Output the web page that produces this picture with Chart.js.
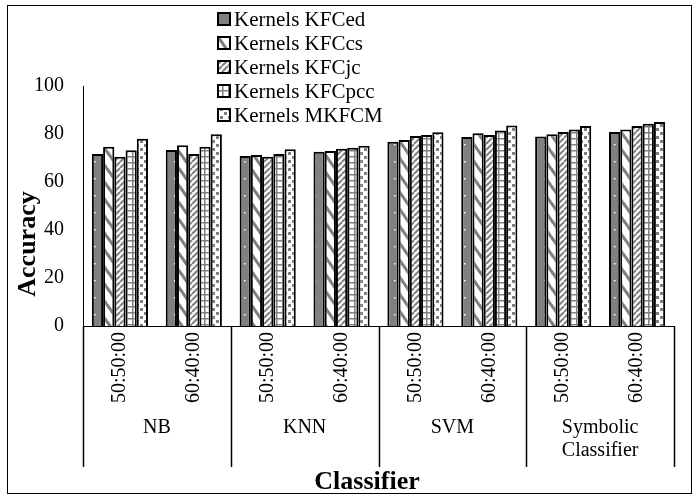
<!DOCTYPE html>
<html>
<head>
<meta charset="utf-8">
<script src="https://cdn.jsdelivr.net/npm/chart.js@4"></script>
<style>
  html, body { margin: 0; padding: 0; background: #fff; }
  #box { width: 698px; height: 498px; position: relative; }
</style>
</head>
<body>
<div id="box"><canvas id="grafico"></canvas></div>
<script>
// ================= DADOS =================
const subLabels = ["50:50:00", "60:40:00", "50:50:00", "60:40:00", "50:50:00", "60:40:00", "50:50:00", "60:40:00"]
const groupLabels = [["NB"], ["KNN"], ["SVM"], ["Symbolic", "Classifier"]]
const seriesNames = ["Kernels KFCed", "Kernels KFCcs", "Kernels KFCjc", "Kernels KFCpcc", "Kernels MKFCM"]

const kfced  = [71.7, 73.3, 70.8, 72.6, 76.8, 78.8, 79.0, 80.8]
const kfccs  = [74.7, 75.3, 71.3, 72.9, 77.5, 80.3, 79.9, 81.9]
const kfcjc  = [70.5, 71.7, 70.5, 73.9, 79.2, 79.6, 80.8, 83.3]
const kfcpcc = [73.2, 74.7, 71.7, 74.3, 79.6, 81.5, 81.9, 84.3]
const mkfcm  = [78.0, 79.9, 73.6, 75.1, 80.7, 83.5, 83.3, 85.0]

const yTicks = [0, 20, 40, 60, 80, 100]

const SERIF = "'Liberation Serif', 'Times New Roman', serif"
const GRAY = "#808080"

// ================= PADRÕES =================
function criarPadrao(w, h, desenhar) {
    const c = document.createElement("canvas")
    c.width = w
    c.height = h
    const ctx = c.getContext("2d")
    desenhar(ctx, w, h)
    return ctx.createPattern(c, "repeat")
}

// cinza com pontinhos brancos
const padraoEd = criarPadrao(10, 17, (ctx, w, h) => {
    ctx.fillStyle = GRAY
    ctx.fillRect(0, 0, w, h)
    ctx.fillStyle = "#fff"
    ctx.fillRect(4, 8, 1.5, 1.5)
})

// listras largas "\"
const padraoCs = criarPadrao(12, 17, (ctx, w, h) => {
    ctx.fillStyle = "#fff"
    ctx.fillRect(0, 0, w, h)
    ctx.strokeStyle = GRAY
    ctx.lineWidth = 3
    for (const dy of [-h, 0, h]) {
        ctx.beginPath()
        ctx.moveTo(-2, dy - 3)
        ctx.lineTo(w + 2, dy + h + 3)
        ctx.stroke()
    }
})

// hachura fina "/"
const padraoJc = criarPadrao(6, 6, (ctx, w, h) => {
    ctx.fillStyle = "#fff"
    ctx.fillRect(0, 0, w, h)
    ctx.strokeStyle = GRAY
    ctx.lineWidth = 2
    for (const dx of [-w, 0, w]) {
        ctx.beginPath()
        ctx.moveTo(dx, h)
        ctx.lineTo(dx + w, 0)
        ctx.stroke()
    }
})

// grade pequena
const padraoPcc = criarPadrao(6, 6, (ctx, w, h) => {
    ctx.fillStyle = "#fff"
    ctx.fillRect(0, 0, w, h)
    ctx.fillStyle = GRAY
    ctx.fillRect(0, 0, w, 1.5)
    ctx.fillRect(0, 0, 1.5, h)
})

// tracejado
const padraoMk = criarPadrao(8, 8, (ctx, w, h) => {
    ctx.fillStyle = "#fff"
    ctx.fillRect(0, 0, w, h)
    ctx.fillStyle = GRAY
    ctx.fillRect(0, 0, 3, 3)
    ctx.fillRect(4, 4, 3, 3)
})

const padroes = [padraoEd, padraoCs, padraoJc, padraoPcc, padraoMk]
const valores = [kfced, kfccs, kfcjc, kfcpcc, mkfcm]

// ================= PLUGIN: títulos, grupos, legenda =================
const extras = {
    id: "extras",
    afterDraw(chart) {
        const ctx = chart.ctx
        const x = chart.scales.x
        const area = chart.chartArea
        const fundo = 467

        ctx.save()

        // separadores dos grupos
        ctx.strokeStyle = "#000"
        ctx.lineWidth = 1.5
        for (let g = 0; g <= groupLabels.length; g++) {
            const px = Math.round(x.getPixelForValue(g * 2 - 0.5)) + 0.5
            ctx.beginPath()
            ctx.moveTo(px, area.bottom)
            ctx.lineTo(px, fundo)
            ctx.stroke()
        }

        // nomes dos grupos
        ctx.fillStyle = "#000"
        ctx.font = "20px " + SERIF
        ctx.textAlign = "center"
        ctx.textBaseline = "middle"
        groupLabels.forEach((linhas, g) => {
            const cx = x.getPixelForValue(g * 2 + 0.5)
            linhas.forEach((t, i) => ctx.fillText(t, cx, 428 + i * 23))
        })

        // títulos dos eixos
        ctx.font = "bold 26px " + SERIF
        ctx.fillText("Classifier", 367, 482)
        ctx.save()
        ctx.translate(28, 244)
        ctx.rotate(-Math.PI / 2)
        ctx.fillText("Accuracy", 0, 0)
        ctx.restore()

        // legenda
        ctx.font = "21px " + SERIF
        ctx.textAlign = "left"
        seriesNames.forEach((nome, i) => {
            const cy = 19 + i * 24
            ctx.fillStyle = padroes[i]
            ctx.fillRect(218, cy - 6, 12, 12)
            ctx.strokeStyle = "#000"
            ctx.lineWidth = 2
            ctx.strokeRect(218, cy - 6, 12, 12)
            ctx.fillStyle = "#000"
            ctx.fillText(nome, 234, cy + 1)
        })

        // moldura externa
        ctx.strokeStyle = "#000"
        ctx.lineWidth = 1
        ctx.strokeRect(7.5, 5.5, 684, 488)

        ctx.restore()
    }
}

// ================= GRÁFICO =================
new Chart(document.getElementById("grafico"), {
    type: "bar",
    data: {
        labels: subLabels,
        datasets: seriesNames.map((nome, i) => ({
            label: nome,
            data: valores[i],
            backgroundColor: padroes[i],
            borderColor: "#000",
            borderWidth: 2,
            borderSkipped: "bottom",
            categoryPercentage: 0.76,
            barPercentage: 1.0
        }))
    },
    options: {
        responsive: true,
        maintainAspectRatio: false,
        animation: false,
        layout: { padding: { top: 86, right: 24, bottom: 0, left: 0 } },
        plugins: {
            legend: { display: false },
            tooltip: { enabled: false }
        },
        scales: {
            x: {
                grid: { display: false, drawTicks: false },
                border: { display: true, color: "#000", width: 1 },
                ticks: {
                    color: "#000",
                    font: { family: SERIF, size: 20 },
                    minRotation: 90,
                    maxRotation: 90,
                    autoSkip: false,
                    padding: 6
                },
                afterFit(scale) { scale.height = 172 }
            },
            y: {
                min: 0,
                max: 100,
                grid: { display: false, drawTicks: false },
                border: { display: true, color: "#000", width: 1 },
                afterBuildTicks(scale) { scale.ticks = yTicks.map(v => ({ value: v })) },
                ticks: {
                    color: "#000",
                    font: { family: SERIF, size: 20 },
                    padding: 19
                },
                afterFit(scale) { scale.width = 83 }
            }
        }
    },
    plugins: [extras]
})
</script>
</body>
</html>
